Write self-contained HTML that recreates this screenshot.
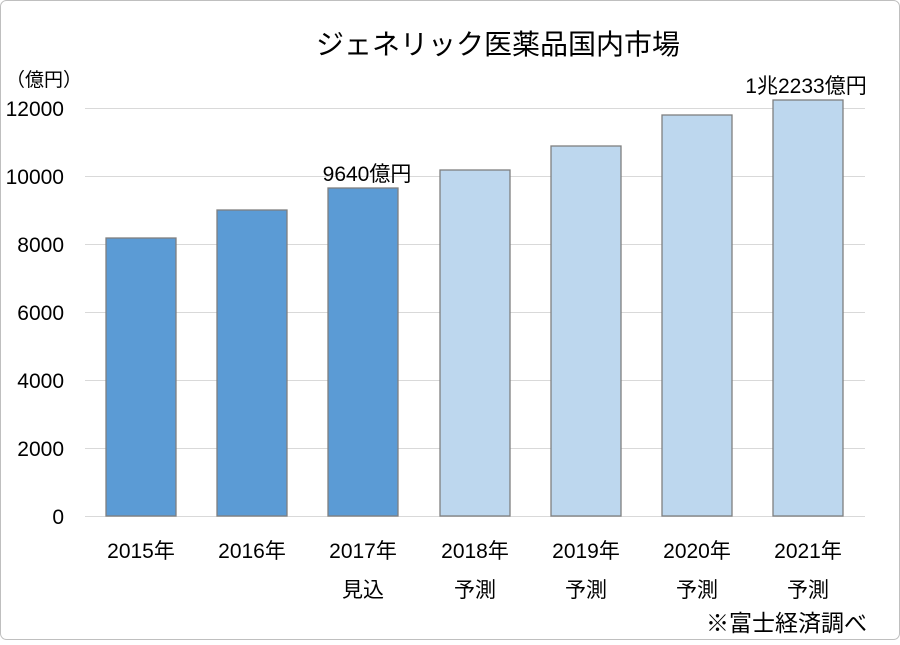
<!DOCTYPE html>
<html><head><meta charset="utf-8"><style>
body{margin:0;background:#fff;}
svg text{font-family:"Liberation Sans","Noto Sans CJK JP",sans-serif;fill:#000;}
</style></head><body>
<svg width="900" height="640" xmlns="http://www.w3.org/2000/svg">
<rect x="0.5" y="0.5" width="899" height="639" rx="6" fill="#fff" stroke="#bfbfbf"/>
<text x="498" y="54" font-size="28" text-anchor="middle">ジェネリック医薬品国内市場</text>
<text x="6" y="86" font-size="19">（億円）</text>
<g stroke="#d9d9d9" stroke-width="1">
<line x1="85" x2="865" y1="108.5" y2="108.5"/>
<line x1="85" x2="865" y1="176.5" y2="176.5"/>
<line x1="85" x2="865" y1="244.5" y2="244.5"/>
<line x1="85" x2="865" y1="312.5" y2="312.5"/>
<line x1="85" x2="865" y1="380.5" y2="380.5"/>
<line x1="85" x2="865" y1="448.5" y2="448.5"/>
<line x1="85" x2="865" y1="516.5" y2="516.5"/>
</g>
<g font-size="21" text-anchor="end">
<text x="64" y="116">12000</text>
<text x="64" y="184">10000</text>
<text x="64" y="252">8000</text>
<text x="64" y="320">6000</text>
<text x="64" y="388">4000</text>
<text x="64" y="456">2000</text>
<text x="64" y="524">0</text>
</g>
<g stroke="#7f7f7f" stroke-width="1.3">
<rect x="106" y="238" width="70" height="278" fill="#5b9bd5"/>
<rect x="217" y="210" width="70" height="306" fill="#5b9bd5"/>
<rect x="328" y="188" width="70" height="328" fill="#5b9bd5"/>
<rect x="440" y="170" width="70" height="346" fill="#bdd7ee"/>
<rect x="551" y="146" width="70" height="370" fill="#bdd7ee"/>
<rect x="662" y="115" width="70" height="401" fill="#bdd7ee"/>
<rect x="773" y="100" width="70" height="416" fill="#bdd7ee"/>
</g>
<text x="367" y="181" font-size="21" text-anchor="middle">9640億円</text>
<text x="806" y="93" font-size="21" text-anchor="middle">1兆2233億円</text>
<g font-size="21" text-anchor="middle">
<text x="141" y="558">2015年</text>
<text x="252" y="558">2016年</text>
<text x="363" y="558">2017年</text>
<text x="475" y="558">2018年</text>
<text x="586" y="558">2019年</text>
<text x="697" y="558">2020年</text>
<text x="808" y="558">2021年</text>
<text x="363" y="597">見込</text>
<text x="475" y="597">予測</text>
<text x="586" y="597">予測</text>
<text x="697" y="597">予測</text>
<text x="808" y="597">予測</text>
</g>
<text x="867" y="631" font-size="23" text-anchor="end">※富士経済調べ</text>
</svg>
</body></html>
